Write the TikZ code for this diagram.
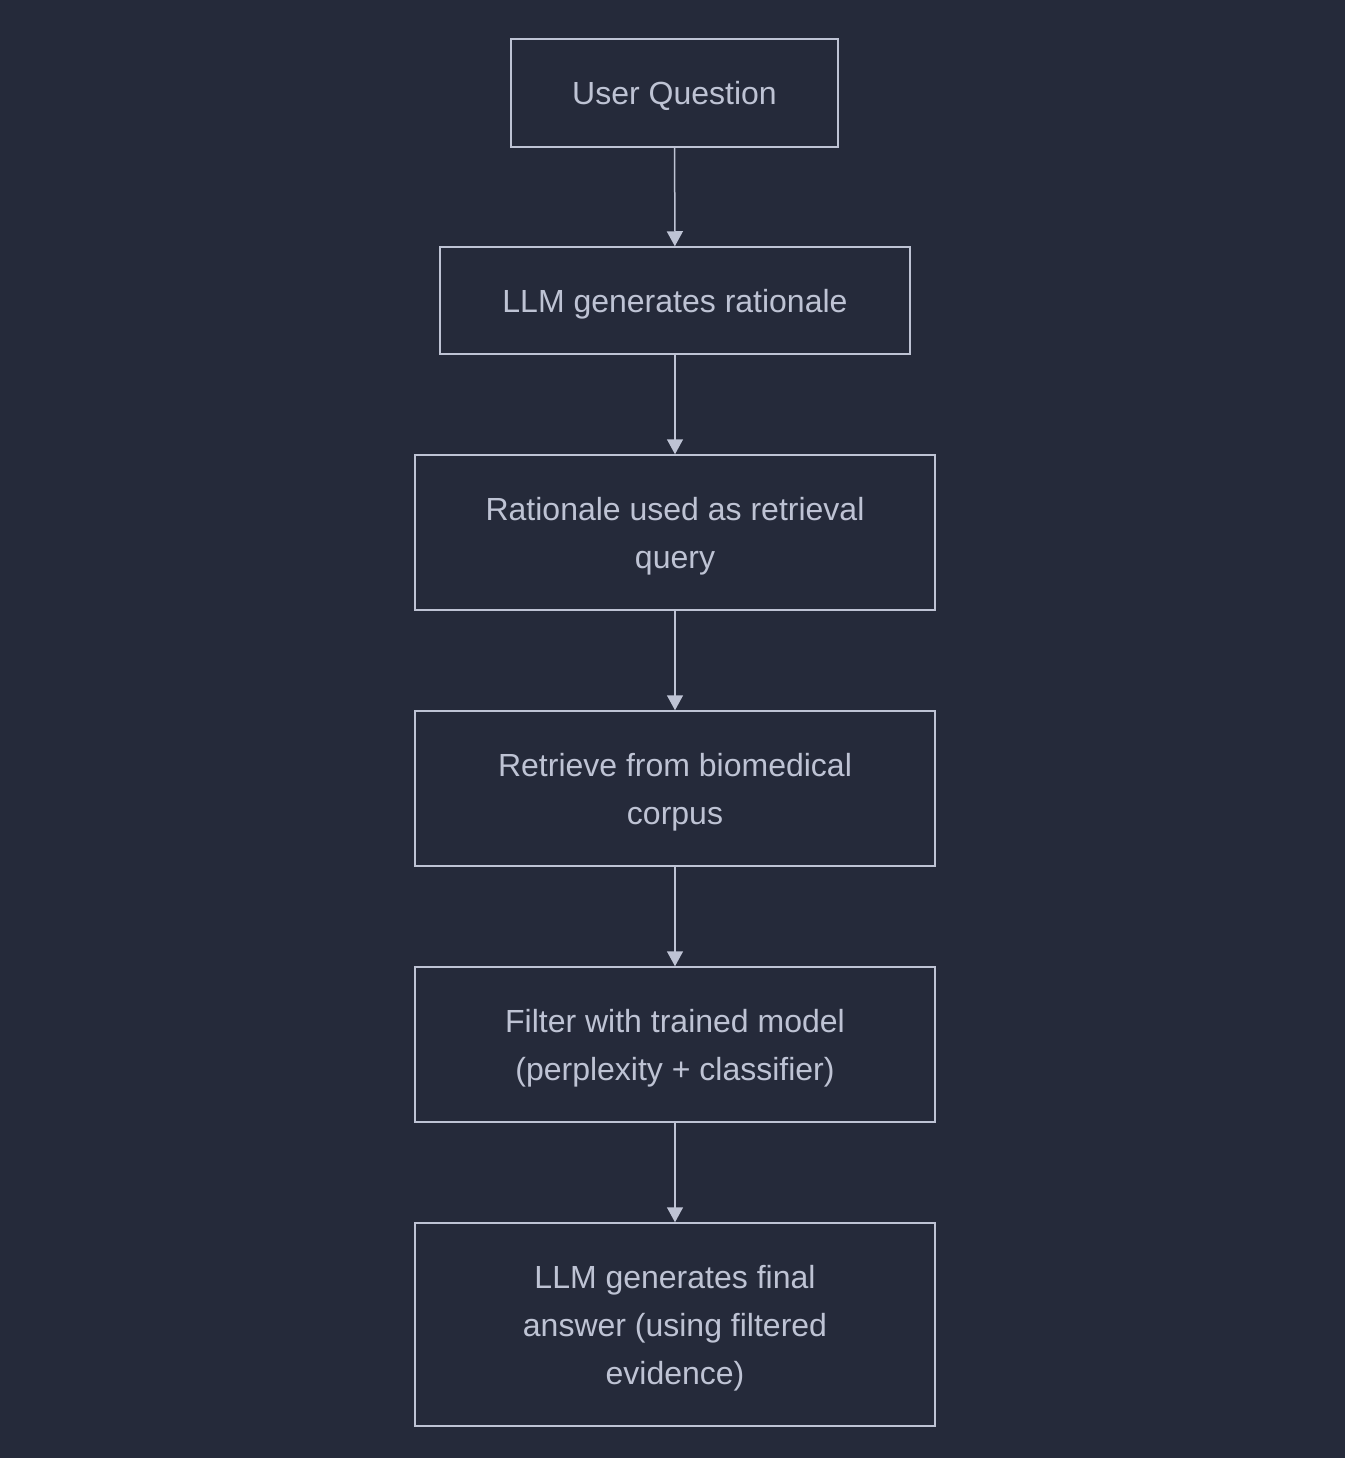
\documentclass[tikz,border=0pt]{standalone}
\usepackage{fontspec}
\setmainfont{Liberation Sans}
\usetikzlibrary{arrows.meta}
\definecolor{bgdark}{RGB}{37,42,58}
\definecolor{edgegrey}{RGB}{190,195,212}
\definecolor{textgrey}{RGB}{190,195,212}
\begin{document}
\begin{tikzpicture}[x=1pt,y=1pt,yscale=-1,xscale=1,
  stepbox/.style={draw=edgegrey, line width=1.5pt, fill=bgdark, text=textgrey,
    inner sep=0pt, align=center, font=\fontsize{32}{48}\selectfont,
    execute at begin node={\rule{0pt}{#1}},
    execute at end node={\rule[-12pt]{0pt}{12pt}}},
  stepbox/.default=36pt,
  flow/.style={draw=edgegrey, line width=1.5pt, -{Triangle[length=15pt,width=16pt]}}]
%set diagram bounding box
\useasboundingbox (0,0) rectangle (1344,1458);
\fill [bgdark] (-5,-5) rectangle (1349,1463);

% Text Node
\node [stepbox, minimum width=327pt, minimum height=108pt] (question) at (674.5,93) {User Question};
% Text Node
\node [stepbox, minimum width=470pt, minimum height=107pt] (rationale) at (675,300.5) {LLM generates rationale};
% Text Node
\node [stepbox=84pt, minimum width=520pt, minimum height=155pt] (query) at (675,532.5) {Rationale used as retrieval\\query};
% Text Node
\node [stepbox=84pt, minimum width=520pt, minimum height=155pt] (retrieve) at (675,788.5) {Retrieve from biomedical\\corpus};
% Text Node
\node [stepbox=84pt, minimum width=520pt, minimum height=155pt] (filter) at (675,1044.5) {Filter with trained model\\(perplexity + classifier)};
% Text Node
\node [stepbox=132pt, minimum width=520pt, minimum height=203pt] (answer) at (675,1324.5) {LLM generates final\\answer (using filtered\\evidence)};

%Straight Lines
\draw [flow] (question) -- (rationale);
\draw [flow] (rationale) -- (query);
\draw [flow] (query) -- (retrieve);
\draw [flow] (retrieve) -- (filter);
\draw [flow] (filter) -- (answer);

\end{tikzpicture}
\end{document}
